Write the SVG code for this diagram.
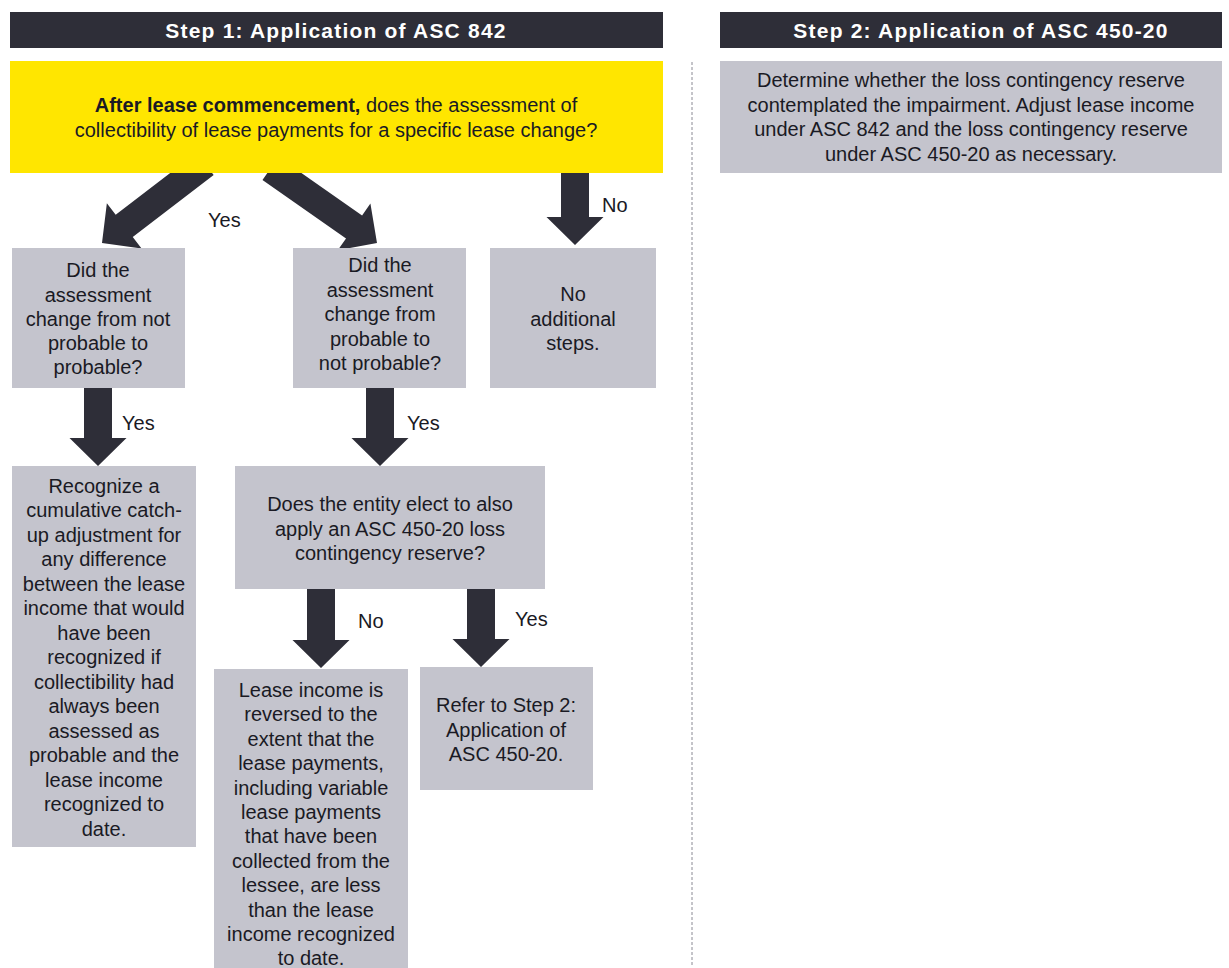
<svg xmlns="http://www.w3.org/2000/svg" width="1229" height="968" viewBox="0 0 1229 968">
<style>
.hdr{fill:#2e2e38}
.hdrt{font-family:"Liberation Sans",Arial,sans-serif;font-size:21px;font-weight:bold;fill:#ffffff;text-anchor:middle;letter-spacing:1.2px}
.box{fill:#c4c4cd}
.yel{fill:#ffe600}
.t{font-family:"Liberation Sans",Arial,sans-serif;font-size:20px;fill:#1a1a24;text-anchor:middle}
.lbl{font-family:"Liberation Sans",Arial,sans-serif;font-size:20px;fill:#1a1a24;text-anchor:start}
.arr{fill:#2e2e38}
</style>
<rect width="1229" height="968" fill="#ffffff"/>
<g id="connectors">
<path class="arr" transform="translate(102,243) rotate(52.5)" d="M-14,-130 H14 V-28 H28.5 L0,0 L-28.5,-28 H-14 Z"/>
<path class="arr" transform="translate(377,243) rotate(-55)" d="M-14,-130 H14 V-28 H28.5 L0,0 L-28.5,-28 H-14 Z"/>
<path class="arr" transform="translate(575,245)" d="M-14,-76 H14 V-28 H28.5 L0,0 L-28.5,-28 H-14 Z"/>
<path class="arr" transform="translate(98,466)" d="M-14,-79 H14 V-28 H28.5 L0,0 L-28.5,-28 H-14 Z"/>
<path class="arr" transform="translate(380,466)" d="M-14,-79 H14 V-28 H28.5 L0,0 L-28.5,-28 H-14 Z"/>
<path class="arr" transform="translate(321,668)" d="M-14,-80 H14 V-28 H28.5 L0,0 L-28.5,-28 H-14 Z"/>
<path class="arr" transform="translate(481,667)" d="M-14,-79 H14 V-28 H28.5 L0,0 L-28.5,-28 H-14 Z"/>
<text class="lbl" x="208" y="227">Yes</text>
<text class="lbl" x="602" y="212">No</text>
<text class="lbl" x="122" y="430">Yes</text>
<text class="lbl" x="407" y="430">Yes</text>
<text class="lbl" x="358" y="628">No</text>
<text class="lbl" x="515" y="626">Yes</text>
<line x1="692" y1="62" x2="692" y2="966" stroke="#8a8a94" stroke-width="1" stroke-dasharray="3,2"/>
</g>
<g id="header1">
<rect class="hdr" x="10" y="12" width="653" height="36"/>
<text class="hdrt" x="336" y="38">Step 1: Application of ASC 842</text>
</g>
<g id="header2">
<rect class="hdr" x="720" y="12" width="502" height="36"/>
<text class="hdrt" x="981" y="38">Step 2: Application of ASC 450-20</text>
</g>
<g id="q1">
<rect class="yel" x="10" y="61" width="653" height="112"/>
<text class="t" x="336" y="112"><tspan font-weight="bold">After lease commencement,</tspan> does the assessment of</text>
<text class="t" x="336" y="137">collectibility of lease payments for a specific lease change?</text>
</g>
<g id="step2">
<rect class="box" x="720" y="61" width="502" height="112"/>
<text class="t" x="971" y="87">Determine whether the loss contingency reserve</text>
<text class="t" x="971" y="112">contemplated the impairment. Adjust lease income</text>
<text class="t" x="971" y="136">under ASC 842 and the loss contingency reserve</text>
<text class="t" x="971" y="161">under ASC 450-20 as necessary.</text>
</g>
<g id="qA">
<rect class="box" x="12" y="248" width="173" height="140"/>
<text class="t" x="98" y="277">Did the</text>
<text class="t" x="98" y="302">assessment</text>
<text class="t" x="98" y="326">change from not</text>
<text class="t" x="98" y="350">probable to</text>
<text class="t" x="98" y="374">probable?</text>
</g>
<g id="qB">
<rect class="box" x="293" y="248" width="173" height="140"/>
<text class="t" x="380" y="272">Did the</text>
<text class="t" x="380" y="297">assessment</text>
<text class="t" x="380" y="321">change from</text>
<text class="t" x="380" y="346">probable to</text>
<text class="t" x="380" y="370">not probable?</text>
</g>
<g id="noSteps">
<rect class="box" x="490" y="248" width="166" height="140"/>
<text class="t" x="573" y="301">No</text>
<text class="t" x="573" y="326">additional</text>
<text class="t" x="573" y="350">steps.</text>
</g>
<g id="recognize">
<rect class="box" x="12" y="466" width="184" height="381"/>
<text class="t" x="104" y="493">Recognize a</text>
<text class="t" x="104" y="517">cumulative catch-</text>
<text class="t" x="104" y="542">up adjustment for</text>
<text class="t" x="104" y="566">any difference</text>
<text class="t" x="104" y="591">between the lease</text>
<text class="t" x="104" y="615">income that would</text>
<text class="t" x="104" y="640">have been</text>
<text class="t" x="104" y="664">recognized if</text>
<text class="t" x="104" y="689">collectibility had</text>
<text class="t" x="104" y="713">always been</text>
<text class="t" x="104" y="738">assessed as</text>
<text class="t" x="104" y="762">probable and the</text>
<text class="t" x="104" y="787">lease income</text>
<text class="t" x="104" y="811">recognized to</text>
<text class="t" x="104" y="836">date.</text>
</g>
<g id="qElect">
<rect class="box" x="235" y="466" width="310" height="123"/>
<text class="t" x="390" y="511">Does the entity elect to also</text>
<text class="t" x="390" y="536">apply an ASC 450-20 loss</text>
<text class="t" x="390" y="560">contingency reserve?</text>
</g>
<g id="reversed">
<rect class="box" x="214" y="669" width="194" height="299"/>
<text class="t" x="311" y="697">Lease income is</text>
<text class="t" x="311" y="721">reversed to the</text>
<text class="t" x="311" y="746">extent that the</text>
<text class="t" x="311" y="770">lease payments,</text>
<text class="t" x="311" y="795">including variable</text>
<text class="t" x="311" y="819">lease payments</text>
<text class="t" x="311" y="843">that have been</text>
<text class="t" x="311" y="868">collected from the</text>
<text class="t" x="311" y="892">lessee, are less</text>
<text class="t" x="311" y="917">than the lease</text>
<text class="t" x="311" y="941">income recognized</text>
<text class="t" x="311" y="965">to date.</text>
</g>
<g id="referStep2">
<rect class="box" x="420" y="667" width="173" height="123"/>
<text class="t" x="506" y="712">Refer to Step 2:</text>
<text class="t" x="506" y="737">Application of</text>
<text class="t" x="506" y="761">ASC 450-20.</text>
</g>
</svg>
